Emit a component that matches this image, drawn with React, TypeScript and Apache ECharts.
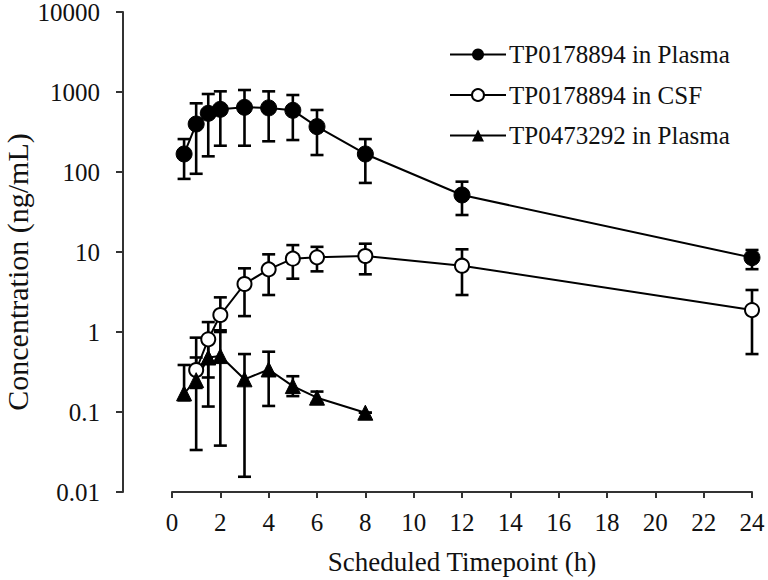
import React, { useEffect, useRef } from "react";
import * as echarts from "echarts";

const FONT = "'Liberation Serif', 'Times New Roman', serif";

const plasmaTimes = [0.5, 1, 1.5, 2, 3, 4, 5, 6, 8, 12, 24];
const plasmaMean = [168, 398, 541, 607, 643, 633, 590, 369, 168, 51.6, 8.5];
const plasmaLow = [82, 95, 157, 213, 213, 242, 251, 163, 73, 29, 6.1];
const plasmaHigh = [258, 722, 944, 1019, 1059, 1019, 917, 596, 258, 75.7, 10.6];

const csfTimes = [1, 1.5, 2, 3, 4, 5, 6, 8, 12, 24];
const csfMean = [0.335, 0.81, 1.63, 3.98, 6.07, 8.25, 8.58, 8.9, 6.74, 1.88];
const csfLow = [0.2, 0.27, 1.05, 1.58, 2.9, 4.64, 5.73, 5.26, 2.9, 0.53];
const csfHigh = [0.85, 1.33, 2.71, 6.25, 9.35, 12.2, 11.6, 12.7, 10.8, 3.35];

const metTimes = [0.5, 1, 1.5, 2, 3, 4, 5, 6, 8];
const metMean = [0.171, 0.25, 0.48, 0.5, 0.256, 0.34, 0.211, 0.151, 0.098];
const metLow = [0.14, 0.0335, 0.117, 0.038, 0.0155, 0.119, 0.158, 0.13, 0.098];
const metHigh = [0.387, 0.48, 0.75, 1.0, 0.53, 0.567, 0.28, 0.18, 0.098];

const xTicks = [0, 24, 2];
const yRange = [0.01, 10000];

const names = ["TP0178894 in Plasma", "TP0178894 in CSF", "TP0473292 in Plasma"];
const xTitle = "Scheduled Timepoint (h)";
const yTitle = "Concentration (ng/mL)";

function zip3(t: number[], m: number[]) {
  return t.map((x, i) => [x, m[i]]);
}
function errData(t: number[], lo: number[], hi: number[]) {
  return t.map((x, i) => [x, lo[i], hi[i]]);
}

function errorSeries(data: number[][]) {
  return {
    type: "custom",
    z: 1,
    silent: true,
    data,
    encode: { x: 0, y: [1, 2] },
    renderItem: (params: any, api: any) => {
      const x = api.value(0);
      const lo = api.coord([x, api.value(1)]);
      const hi = api.coord([x, api.value(2)]);
      const hw = 6.5;
      const style = { stroke: "#000", lineWidth: 2.6 };
      return {
        type: "group",
        children: [
          { type: "line", shape: { x1: lo[0], y1: lo[1], x2: hi[0], y2: hi[1] }, style },
          { type: "line", shape: { x1: lo[0] - hw, y1: lo[1], x2: lo[0] + hw, y2: lo[1] }, style },
          { type: "line", shape: { x1: hi[0] - hw, y1: hi[1], x2: hi[0] + hw, y2: hi[1] }, style },
        ],
      };
    },
  };
}

export default function App() {
  const ref = useRef<HTMLDivElement>(null);
  useEffect(() => {
    if (!ref.current) return;
    const chart = echarts.init(ref.current, null, { renderer: "svg" });
    const lineBase = {
      type: "line",
      z: 3,
      lineStyle: { color: "#000", width: 2 },
      itemStyle: { color: "#000", borderColor: "#000" },
    };
    chart.setOption({
      animation: false,
      backgroundColor: "#fff",
      textStyle: { fontFamily: FONT },
      grid: {
        left: 172,
        right: 16,
        top: 12,
        bottom: 88,
        containLabel: false,
        outerBoundsMode: "none",
      },
      legend: {
        left: 449,
        top: 42,
        padding: 0,
        orient: "vertical",
        itemWidth: 56,
        itemHeight: 15,
        itemGap: 15.5,
        textStyle: { fontFamily: FONT, fontSize: 25, color: "#111", padding: [0, 0, 0, -2] },
        data: names,
      },
      graphic: [
        {
          type: "text",
          x: 17,
          y: 272,
          rotation: Math.PI / 2,
          style: {
            text: yTitle,
            fontFamily: FONT,
            fontSize: 30,
            fill: "#111",
            align: "center",
            verticalAlign: "middle",
          },
        },
      ],
      xAxis: {
        type: "value",
        min: xTicks[0],
        max: xTicks[1],
        interval: xTicks[2],
        name: xTitle,
        nameLocation: "middle",
        nameGap: 56,
        nameTextStyle: { fontFamily: FONT, fontSize: 27, color: "#111" },
        axisLine: { show: true, onZero: false, lineStyle: { color: "#333", width: 2 } },
        axisTick: { show: true, length: 6, lineStyle: { color: "#333", width: 2 } },
        axisLabel: { fontFamily: FONT, fontSize: 25, color: "#111", margin: 18 },
        splitLine: { show: false },
      },
      yAxis: {
        type: "log",
        logBase: 10,
        min: yRange[0],
        max: yRange[1],
        offset: 49,
        axisLine: { show: true, onZero: false, lineStyle: { color: "#333", width: 2 } },
        axisTick: { show: true, length: 7, lineStyle: { color: "#333", width: 2 } },
        axisLabel: {
          fontFamily: FONT,
          fontSize: 25,
          color: "#111",
          margin: 23,
          formatter: (v: number) => String(Number(v.toPrecision(6))),
        },
        splitLine: { show: false },
      },
      series: [
        errorSeries(errData(plasmaTimes, plasmaLow, plasmaHigh)),
        errorSeries(errData(csfTimes, csfLow, csfHigh)),
        errorSeries(errData(metTimes, metLow, metHigh)),
        {
          ...lineBase,
          name: names[0],
          symbol: "circle",
          symbolSize: 16,
          data: zip3(plasmaTimes, plasmaMean),
        },
        {
          ...lineBase,
          name: names[1],
          symbol: "circle",
          symbolSize: 14,
          itemStyle: { color: "#fff", borderColor: "#000", borderWidth: 2 },
          data: zip3(csfTimes, csfMean),
        },
        {
          ...lineBase,
          name: names[2],
          symbol: "triangle",
          symbolSize: 15,
          data: zip3(metTimes, metMean),
        },
      ],
    });
    return () => chart.dispose();
  }, []);
  return (
    <div
      ref={ref}
      style={{ position: "absolute", left: 0, top: 0, width: 768, height: 580 }}
    />
  );
}
